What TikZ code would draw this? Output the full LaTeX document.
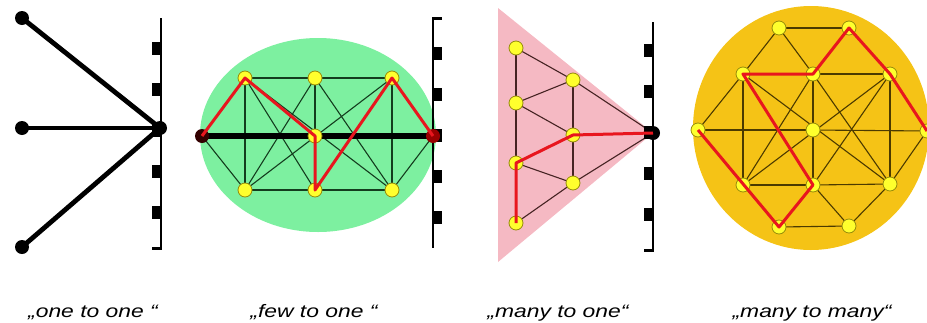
\documentclass[tikz,border=0pt]{standalone}
\usepackage{fontspec}
\usepackage{tikz}
\usetikzlibrary{backgrounds}
\newfontfamily\labelfont[FakeStretch=1.27]{Liberation Sans}
\definecolor{fewgreen}{RGB}{125,240,160}
\definecolor{manypink}{RGB}{245,185,195}
\definecolor{manygold}{RGB}{245,195,22}
\definecolor{nodeyellow}{RGB}{255,255,45}
\definecolor{nodeedge}{RGB}{150,140,10}
\definecolor{pathred}{RGB}{232,22,30}
\definecolor{edgegreen}{RGB}{20,60,30}
\definecolor{edgebrown}{RGB}{70,35,35}
\definecolor{edgeolive}{RGB}{75,58,0}

\begin{document}
\begin{tikzpicture}[
  x=1pt, y=-1pt,
  bdot/.style={circle, fill=black, minimum size=14pt, inner sep=0pt},
  ynode/.style={circle, draw=nodeedge, fill=nodeyellow, line width=0.8pt, minimum size=14pt, inner sep=0pt},
  heavy/.style={line width=4.8pt},
  thin edge/.style={line width=1.1pt},
  redpath/.style={pathred, line width=3pt, line join=round},
  wallline/.style={line width=1.5pt},
  wallmark/.style={line width=9pt, dash pattern=on 13pt off 28pt},
  lbl/.style={font=\labelfont\itshape\fontsize{18}{20}\selectfont, anchor=base}
]
  \useasboundingbox (0,0) rectangle (927,322);

  % one to one
  \node[bdot] (o1) at (22,18) {};
  \node[bdot] (o2) at (22,128) {};
  \node[bdot] (o3) at (22,247) {};
  \node[bdot] (h1) at (160,128) {};
  \coordinate (w1a) at (161,18);
  \coordinate (w1b) at (161,250);
  \begin{pgfonlayer}{background}
    \foreach \s in {o1,o2,o3}
      \draw[heavy] (\s.center) -- (h1.center);
    \draw[wallline] (w1a) -- (w1b);
    \draw[wallmark, dash phase=17pt] ([xshift=-4.5pt]w1a) -- ([xshift=-4.5pt]w1b);
  \end{pgfonlayer}

  % few to one
  \node[bdot, fill=black!80!red] (fl) at (202,136) {};
  \node[bdot, fill=red!60!black] (fr) at (433,136) {};
  \node[ynode] (ft1) at (245,78) {};
  \node[ynode] (ft2) at (315,78) {};
  \node[ynode] (ft3) at (392,78) {};
  \node[ynode] (fm) at (315,136) {};
  \node[ynode] (fb1) at (245,190) {};
  \node[ynode] (fb2) at (315,190) {};
  \node[ynode] (fb3) at (392,190) {};
  \coordinate (w2a) at (433,17);
  \coordinate (w2b) at (433,248);
  \begin{pgfonlayer}{background}
    \fill[fewgreen] (318,135) ellipse [x radius=118pt, y radius=97pt];
    \foreach \a/\b in {ft1/ft2, ft2/ft3, fb1/fb2, fb2/fb3, ft1/fb1, ft2/fb2, ft3/fb3,
        fl/ft1, fl/fb1, fr/ft3, fr/fb3, ft1/fb3, fb1/ft3, ft1/fb2, fb1/ft2, ft3/fb2, fb3/ft2}
      \draw[thin edge, edgegreen] (\a.center) -- (\b.center);
    \draw[line width=6pt] (fl.center) -- (fr.center);
    \draw[wallline] (w2a) -- (w2b);
    \draw[wallmark, dash phase=11pt] ([xshift=4.5pt]w2a) -- ([xshift=4.5pt]w2b);
    \draw[line width=9pt] ([xshift=4.5pt]w2a) -- ++(0,3);
  \end{pgfonlayer}
  \draw[redpath] (fl.center) -- (ft1.center) -- (fm.center) -- (fb2.center) -- (ft3.center) -- (fr.center);

  % many to one
  \node[bdot] (h3) at (653,133) {};
  \node[ynode] (ml1) at (516,48) {};
  \node[ynode] (ml2) at (516,103) {};
  \node[ynode] (ml3) at (516,163) {};
  \node[ynode] (ml4) at (516,223) {};
  \node[ynode] (mm1) at (573,80) {};
  \node[ynode] (mm2) at (573,135) {};
  \node[ynode] (mm3) at (573,183) {};
  \coordinate (w3a) at (653,22);
  \coordinate (w3b) at (653,252);
  \begin{pgfonlayer}{background}
    \fill[manypink] (498,8) -- (498,262) -- (h3.center) -- cycle;
    \foreach \a/\b in {ml1/ml2, ml2/ml3, ml3/ml4, mm1/mm2, mm2/mm3, ml1/mm1, ml2/mm1,
        ml2/mm2, ml3/mm2, ml3/mm3, ml4/mm3, mm1/h3, mm2/h3, mm3/h3}
      \draw[thin edge, edgebrown] (\a.center) -- (\b.center);
    \draw[wallline] (w3a) -- (w3b);
    \draw[wallmark, dash phase=19pt] ([xshift=-4.5pt]w3a) -- ([xshift=-4.5pt]w3b);
  \end{pgfonlayer}
  \draw[redpath] (h3.center) -- (mm2.center) -- (ml3.center) -- (ml4.center);

  % many to many
  \node[ynode] (pa) at (779,28) {};
  \node[ynode] (pb) at (849,28) {};
  \node[ynode] (pc) at (743,74) {};
  \node[ynode] (pd) at (813,74) {};
  \node[ynode] (pe) at (890,74) {};
  \node[ynode] (pf) at (698,130) {};
  \node[ynode] (pg) at (813,130) {};
  \node[ynode] (ph) at (927,131) {};
  \node[ynode] (pi) at (743,185) {};
  \node[ynode] (pj) at (813,185) {};
  \node[ynode] (pk) at (890,184) {};
  \node[ynode] (pl) at (779,227) {};
  \node[ynode] (pm) at (849,226) {};
  \begin{pgfonlayer}{background}
    \fill[manygold] (811,128) ellipse [x radius=118pt, y radius=122pt];
    \foreach \a/\b in {pa/pb, pa/pc, pa/pd, pb/pd, pb/pe, pc/pd, pd/pe, pf/pg, pg/ph,
        pi/pj, pj/pk, pl/pm, pc/pi, pd/pj, pe/pk, pf/pc, pf/pi, ph/pe, ph/pk,
        pi/pl, pj/pl, pj/pm, pk/pm, pc/pk, pe/pi, pc/pj, pd/pi, pd/pk, pe/pj}
      \draw[thin edge, edgeolive] (\a.center) -- (\b.center);
  \end{pgfonlayer}
  \draw[redpath] (pf.center) -- (pl.center) -- (pj.center) -- (pc.center) -- (pd.center)
    -- (pb.center) -- (pe.center) -- (ph.center);

  % labels
  \node[lbl] (t1) at (93,317) {„one to one “};
  \node[lbl] (t2) at (314,317) {„few to one “};
  \node[lbl] (t3) at (558,317) {„many to one“};
  \node[lbl] (t4) at (812,317) {„many to many“};
\end{tikzpicture}
\end{document}
